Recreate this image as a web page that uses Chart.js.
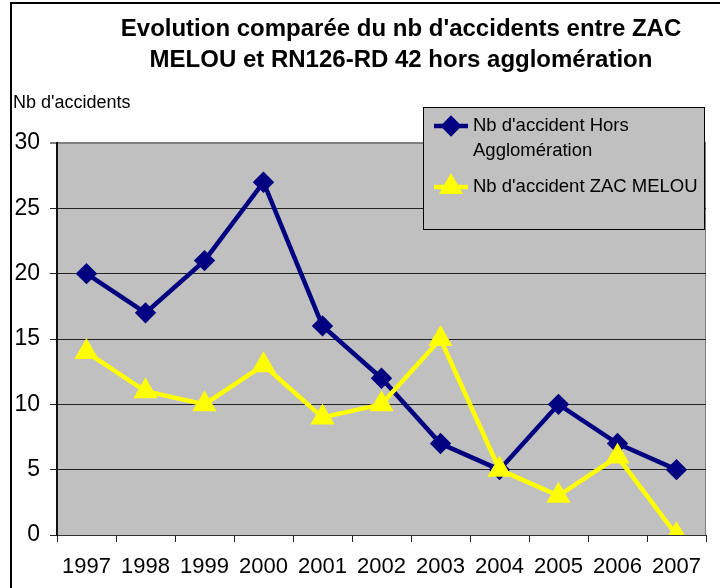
<!DOCTYPE html>
<html>
<head>
<meta charset="utf-8">
<script src="https://cdn.jsdelivr.net/npm/chart.js@4"></script>
<style>
  html, body { margin: 0; padding: 0; background: #fff; }
  #wrap { position: relative; width: 720px; height: 588px; }
</style>
</head>
<body>
<div id="wrap"><canvas id="chart" width="720" height="588"></canvas></div>
<script>
// Évolution du nb d'accidents — Hors agglomération vs ZAC MELOU

const years = ['1997', '1998', '1999', '2000', '2001', '2002', '2003', '2004', '2005', '2006', '2007'];
const horsAgglo = [20, 17, 21, 27, 16, 12, 7, 5, 10, 7, 5];
const zacMelou = [14, 11, 10, 13, 9, 10, 15, 5, 3, 6, 0];
const yTicks = [0, 5, 10, 15, 20, 25, 30];

const titleLines = ["Evolution comparée du nb d'accidents entre ZAC", 'MELOU et RN126-RD 42 hors agglomération'];
const yAxisLabel = "Nb d'accidents";
const legendItems = [
  { lines: ["Nb d'accident Hors", 'Agglomération'], dataset: 0 },
  { lines: ["Nb d'accident ZAC MELOU"], dataset: 1 },
];

const FONT = '"Liberation Sans", Arial, sans-serif';
const PLOT_BG = '#c0c0c0';

const framePlugin = {
  id: 'frame',
  beforeDraw(chart) {
    const { ctx, chartArea: a } = chart;
    ctx.save();
    ctx.fillStyle = PLOT_BG;
    ctx.fillRect(a.left, a.top, a.right - a.left, a.bottom - a.top);
    ctx.strokeStyle = '#808080';
    ctx.lineWidth = 1;
    ctx.beginPath();
    ctx.moveTo(a.right - 0.5, a.top);
    ctx.lineTo(a.right - 0.5, a.bottom);
    ctx.stroke();
    // outer chart frame (left + top only visible)
    ctx.strokeStyle = '#000';
    ctx.lineWidth = 2;
    ctx.beginPath();
    ctx.moveTo(11, 600);
    ctx.lineTo(11, 3);
    ctx.lineTo(730, 3);
    ctx.stroke();
    // title
    ctx.fillStyle = '#000';
    ctx.textAlign = 'center';
    ctx.textBaseline = 'middle';
    ctx.font = 'bold 24px ' + FONT;
    titleLines.forEach((t, i) => ctx.fillText(t, 401, 29 + i * 31));
    // y axis label
    ctx.textAlign = 'left';
    ctx.font = '18px ' + FONT;
    ctx.fillText(yAxisLabel, 13, 103);
    ctx.restore();
  },
  afterDraw(chart) {
    const { ctx } = chart;
    const box = { x: 423, y: 107, w: 281, h: 122 };
    ctx.save();
    ctx.fillStyle = PLOT_BG;
    ctx.fillRect(box.x, box.y, box.w, box.h);
    ctx.strokeStyle = '#000';
    ctx.lineWidth = 1;
    ctx.strokeRect(box.x + 0.5, box.y + 0.5, box.w, box.h);
    ctx.font = '18.5px ' + FONT;
    ctx.textBaseline = 'middle';
    ctx.textAlign = 'left';
    const rows = [126, 187];
    legendItems.forEach((item, i) => {
      const ds = chart.data.datasets[item.dataset];
      const y = rows[i];
      ctx.strokeStyle = ds.borderColor;
      ctx.lineWidth = ds.borderWidth;
      ctx.beginPath();
      ctx.moveTo(434, y);
      ctx.lineTo(468, y);
      ctx.stroke();
      ctx.fillStyle = ds.pointBackgroundColor;
      ctx.strokeStyle = ds.pointBorderColor;
      Chart.helpers.drawPoint(ctx, {
        pointStyle: ds.pointStyle,
        radius: ds.pointRadius,
        rotation: 0,
        borderWidth: 1,
      }, 451, y);
      ctx.fillStyle = '#000';
      item.lines.forEach((l, k) => ctx.fillText(l, 473, y + k * 25));
    });
    ctx.restore();
  }
};

new Chart(document.getElementById('chart'), {
  type: 'line',
  data: {
    labels: years,
    datasets: [
      {
        label: legendItems[0].lines.join(' '),
        data: horsAgglo,
        borderColor: '#000080',
        backgroundColor: '#000080',
        borderWidth: 4.5,
        pointStyle: 'rectRot',
        pointRadius: 7.5,
        pointBackgroundColor: '#000080',
        pointBorderColor: '#000080',
        tension: 0,
        order: 1,
      },
      {
        label: legendItems[1].lines.join(' '),
        data: zacMelou,
        borderColor: '#ffff00',
        backgroundColor: '#ffff00',
        borderWidth: 4.5,
        pointStyle: 'triangle',
        pointRadius: 9.5,
        pointBackgroundColor: '#ffff00',
        pointBorderColor: '#ffff00',
        tension: 0,
        order: 0,
      },
    ],
  },
  options: {
    responsive: false,
    animation: false,
    layout: { padding: { left: 0, top: 143, right: 3, bottom: 0 } },
    plugins: {
      legend: { display: false },
      title: { display: false },
      tooltip: { enabled: false },
    },
    scales: {
      x: {
        offset: true,
        grid: {
          offset: true,
          drawOnChartArea: false,
          drawTicks: true,
          tickLength: 7,
          color: '#222',
        },
        border: { color: '#333', width: 1 },
        ticks: {
          color: '#000',
          font: { family: FONT, size: 22 },
          padding: 12,
          maxRotation: 0,
          autoSkip: false,
        },
        afterFit(scale) { scale.height = 53; },
      },
      y: {
        min: 0,
        max: 30,
        afterBuildTicks(scale) { scale.ticks = yTicks.map(v => ({ value: v })); },
        grid: {
          color: (c) => (c.tick && c.tick.value === 30 ? '#808080' : '#222'),
          lineWidth: (c) => (c.tick && c.tick.value === 30 ? 2 : 1),
          tickLength: 7,
        },
        border: { color: '#111', width: 2 },
        ticks: {
          color: '#000',
          font: { family: FONT, size: 23 },
          padding: 10,
        },
        afterFit(scale) { scale.width = 57; },
      },
    },
  },
  plugins: [framePlugin],
});
</script>
</body>
</html>
